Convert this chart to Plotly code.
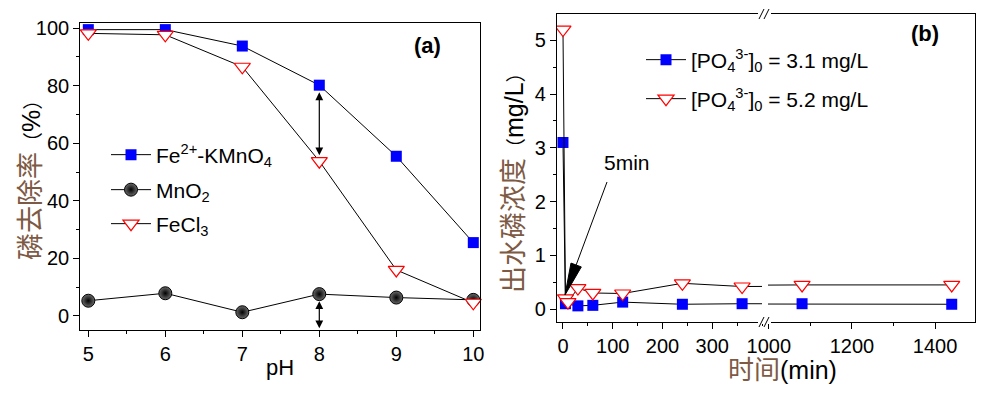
import math
import plotly.graph_objects as go

# ---------------- data ----------------
ph = [5, 6, 7, 8, 9, 10]
fe_kmno4 = [99.5, 99.5, 93.8, 80.2, 55.5, 25.5]
mno2 = [5.3, 7.9, 1.3, 7.6, 6.4, 5.6]
fecl3 = [98.2, 97.7, 86.6, 53.8, 16.0, 4.6]

time_31 = [0, 5, 30, 60, 120, 240, 360, 1080, 1440]
conc_31 = [3.1, 0.1, 0.06, 0.07, 0.13, 0.09, 0.1, 0.1, 0.09]
time_52 = [0, 5, 10, 30, 60, 120, 240, 360, 1080, 1440]
conc_52 = [5.2, 0.2, 0.13, 0.39, 0.3, 0.29, 0.48, 0.42, 0.45, 0.45]

ph_ticks = [5, 6, 7, 8, 9, 10]
pct_ticks = [0, 20, 40, 60, 80, 100]
conc_ticks = [0, 1, 2, 3, 4, 5]
t_left_ticks = [0, 100, 200, 300]
t_right_ticks = [1000, 1200, 1400]

# the page body has an 8px margin: the figure is drawn from (8, 8)
OFF = 8
W, H = 991 - OFF, 398 - OFF
FONT = "Liberation Sans, Arial, Noto Sans CJK SC"
CJK = "#7d5a44"
BLUE = "#0000ff"
RED = "#ff0000"


def px(x):
    return (x - OFF) / W


def py(y):
    return 1 - (y - OFF) / H


fig = go.Figure()

tri_marker = dict(symbol="triangle-down", size=14, color="white",
                  line=dict(color=RED, width=1.2))

# ---------------- panel (a) ----------------
fig.add_trace(go.Scatter(
    x=ph, y=fe_kmno4, mode="lines+markers", name="Fe<sup>2+</sup>-KMnO<sub>4</sub>",
    line=dict(color="black", width=1),
    marker=dict(symbol="square", size=11, color=BLUE),
    cliponaxis=False, xaxis="x", yaxis="y", legend="legend"))
fig.add_trace(go.Scatter(
    x=ph, y=mno2, mode="lines+markers", name="MnO<sub>2</sub>",
    line=dict(color="black", width=1),
    marker=dict(symbol="circle", size=13, color="#6a6a6a",
                gradient=dict(type="radial", color="black"),
                line=dict(color="black", width=1)),
    cliponaxis=False, xaxis="x", yaxis="y", legend="legend2"))
fig.add_trace(go.Scatter(
    x=ph, y=fecl3, mode="lines+markers", name="FeCl<sub>3</sub>",
    line=dict(color="black", width=1),
    marker=tri_marker,
    cliponaxis=False, xaxis="x", yaxis="y", legend="legend3"))

# ---------------- panel (b) ----------------
for ax_x, ax_y, show in (("x2", "y2", True), ("x3", "y3", False)):
    fig.add_trace(go.Scatter(
        x=time_31, y=conc_31, mode="lines+markers",
        name="[PO<sub>4</sub><sup>3-</sup>]<sub>0</sub> = 3.1 mg/L",
        line=dict(color="black", width=1),
        marker=dict(symbol="square", size=11, color=BLUE),
        xaxis=ax_x, yaxis=ax_y, showlegend=show, legend="legend4"))
    fig.add_trace(go.Scatter(
        x=time_52, y=conc_52, mode="lines+markers",
        name="[PO<sub>4</sub><sup>3-</sup>]<sub>0</sub> = 5.2 mg/L",
        line=dict(color="black", width=1),
        marker=tri_marker,
        xaxis=ax_x, yaxis=ax_y, showlegend=show, legend="legend5"))

axis_common = dict(showline=True, linecolor="black", linewidth=1.3,
                   ticks="outside", ticklen=6, tickwidth=1.2, tickcolor="black",
                   showgrid=False, zeroline=False, automargin=False,
                   tickfont=dict(family=FONT, size=20, color="black"))

ya_dom = [py(330), py(23.3)]
yb_dom = [py(322), py(14)]

fig.update_layout(
    width=W, height=H,
    margin=dict(l=0, r=0, t=0, b=0, autoexpand=False),
    paper_bgcolor="white", plot_bgcolor="white",
    showlegend=True,
    font=dict(family=FONT, size=20, color="black"),
    xaxis=dict(domain=[px(80.3), px(480)], anchor="y", range=[4.896, 10.087],
               tickvals=ph_ticks, mirror=True,
               minor=dict(ticks="outside", ticklen=3, dtick=0.5, tickcolor="black"),
               **axis_common),
    yaxis=dict(domain=ya_dom, anchor="x", range=[-4.87, 101.7],
               tickvals=pct_ticks, mirror=True,
               minor=dict(ticks="outside", ticklen=3, dtick=10, tickcolor="black"),
               **axis_common),
    xaxis2=dict(domain=[px(557), px(762)], anchor="y2", range=[-12, 400],
                tickvals=t_left_ticks, mirror=True,
                minor=dict(ticks="outside", ticklen=3, dtick=50, tickcolor="black"),
                **axis_common),
    yaxis2=dict(domain=yb_dom, anchor="x2", range=[-0.24, 5.49],
                tickvals=conc_ticks,
                minor=dict(ticks="outside", ticklen=3, dtick=0.5, tickcolor="black"),
                **axis_common),
    xaxis3=dict(domain=[px(768), px(975)], anchor="y3", range=[998, 1496],
                tickvals=t_right_ticks, mirror=True,
                minor=dict(ticks="outside", ticklen=3, dtick=100, tickcolor="black"),
                **axis_common),
    yaxis3=dict(domain=yb_dom, anchor="x3", range=[-0.24, 5.49], side="right",
                showline=True, linecolor="black", linewidth=1.3, ticks="",
                showticklabels=False, showgrid=False, zeroline=False, automargin=False),
)

leg_common = dict(bgcolor="rgba(0,0,0,0)", borderwidth=0, xanchor="left",
                  yanchor="middle", itemwidth=40,
                  font=dict(family=FONT, size=21, color="black"))
fig.update_layout(
    legend=dict(x=px(106), y=py(155), **leg_common),
    legend2=dict(x=px(106), y=py(190), **leg_common),
    legend3=dict(x=px(106), y=py(224), **leg_common),
    legend4=dict(x=px(641), y=py(60), **leg_common),
    legend5=dict(x=px(641), y=py(99), **leg_common),
)

# ---------------- annotations ----------------
def label(text, x, y, size, angle=0):
    return dict(text=text, x=px(x), y=py(y), xref="paper", yref="paper",
                xanchor="center", yanchor="middle", showarrow=False,
                textangle=angle, font=dict(family=FONT, size=size, color="black"))


def cjk(s, size=27):
    return f"<span style='color:{CJK};font-size:{size}px'>{s}</span>"


def paren(s):
    return f"<span style='font-size:20px'>{s}</span>"


ann = [
    label("<b>(a)</b>", 427, 46, 22),
    label("<b>(b)</b>", 925, 34, 22),
    label("pH", 280, 367, 22),
    label(cjk("时间", 26) + "(min)", 782, 370, 25),
    label(cjk("磷去除率") + paren("（") + "%" + paren("）"), 31, 175, 25, -90),
    label(cjk("出水磷浓度") + paren("（") + "mg/L" + paren("）"), 514, 178, 25, -90),
    label("5min", 627, 163, 21),
]
# double arrows at pH 8
ann.append(dict(text="", x=ph[3], y=fe_kmno4[3] - 2.5, xref="x", yref="y",
                ax=ph[3], ay=fecl3[3] + 1.5, axref="x", ayref="y", showarrow=True,
                arrowhead=2, arrowside="end+start", arrowsize=1.3, arrowwidth=1.2,
                arrowcolor="black"))
ann.append(dict(text="", x=ph[3], y=mno2[3] - 2.5, xref="x", yref="y",
                ax=ph[3], ay=-4.8, axref="x", ayref="y", showarrow=True,
                arrowhead=2, arrowside="end+start", arrowsize=1.3, arrowwidth=1.2,
                arrowcolor="black"))
fig.update_layout(annotations=ann)

shapes = []
# axis-break marks
for yb in (14, 322):
    shapes.append(dict(type="rect", xref="paper", yref="paper",
                       x0=px(758), x1=px(771), y0=py(yb + 2), y1=py(yb - 2),
                       fillcolor="white", line=dict(width=0)))
    for dx in (0, 5):
        shapes.append(dict(type="line", xref="paper", yref="paper",
                           x0=px(759 + dx), y0=py(yb + 5), x1=px(764 + dx), y1=py(yb - 5),
                           line=dict(color="black", width=1)))

# "5min" pointer arrow (decoration, pixel positions in the page)
tail = (607, 182)
tip = (565, 295)
dxp, dyp = tip[0] - tail[0], tip[1] - tail[1]
L = math.hypot(dxp, dyp)
ux, uy = dxp / L, dyp / L
head_len, half_w = 32, 5.5
bx, by = tip[0] - ux * head_len, tip[1] - uy * head_len
nx, ny = -uy, ux
shapes.append(dict(type="line", xref="paper", yref="paper",
                   x0=px(tail[0]), y0=py(tail[1]), x1=px(bx), y1=py(by),
                   line=dict(color="black", width=1)))
p1 = (bx + nx * half_w, by + ny * half_w)
p2 = (bx - nx * half_w, by - ny * half_w)
path = (f"M {px(tip[0])} {py(tip[1])} L {px(p1[0])} {py(p1[1])} "
        f"L {px(p2[0])} {py(p2[1])} Z")
shapes.append(dict(type="path", xref="paper", yref="paper", path=path,
                   fillcolor="black", line=dict(color="black", width=1)))
fig.update_layout(shapes=shapes)

fig.write_html("out.html")
